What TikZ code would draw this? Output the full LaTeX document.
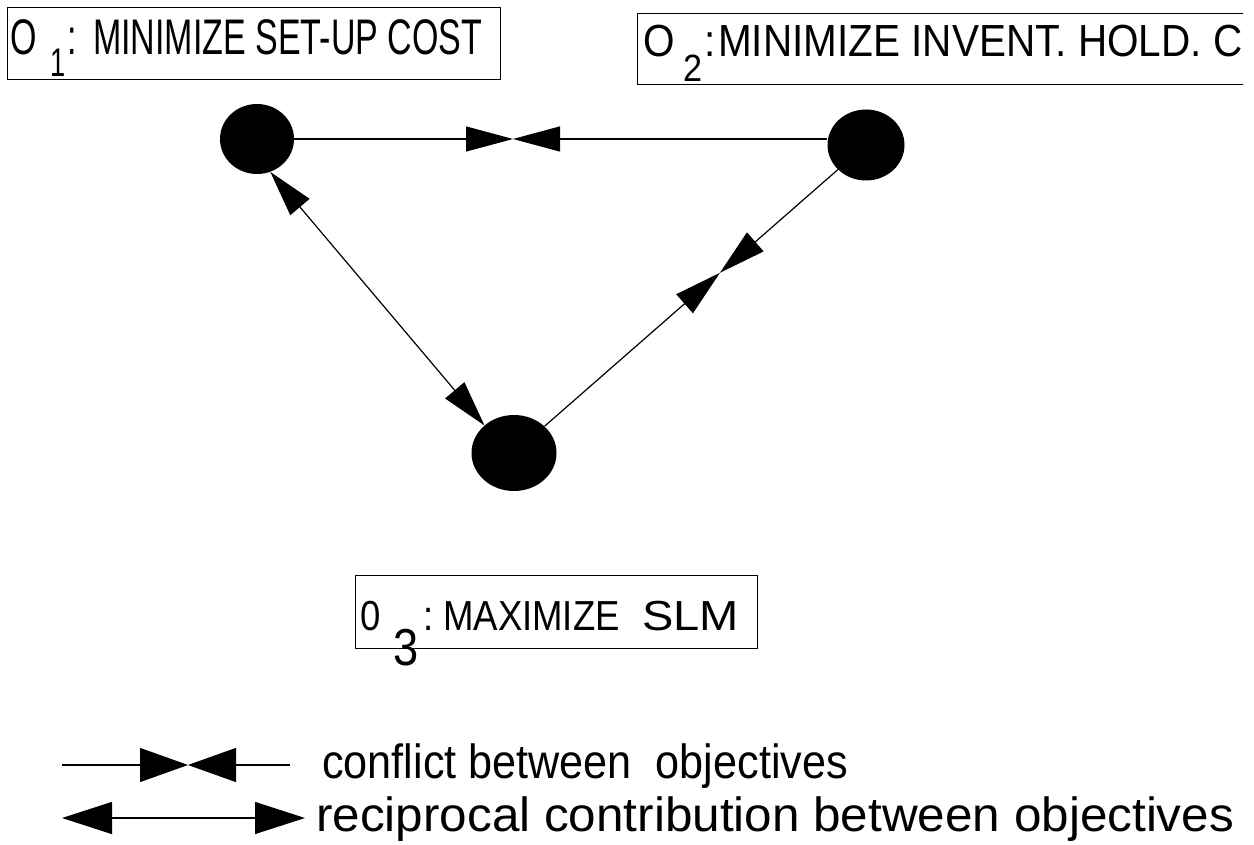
\documentclass[tikz,border=0pt]{standalone}
\usepackage{fontspec}
\setmainfont{Liberation Sans}
\newfontfamily\fonta[FakeStretch=0.68]{Liberation Sans}
\newfontfamily\fontb[FakeStretch=0.9]{Liberation Sans}
\newfontfamily\fontc[FakeStretch=0.87]{Liberation Sans}
\newfontfamily\fontd[FakeStretch=1.12]{Liberation Sans}
\newfontfamily\fontl[FakeStretch=0.9]{Liberation Sans}
\newfontfamily\fontm[FakeStretch=1.03]{Liberation Sans}
\usetikzlibrary{shapes.geometric,arrows.meta,calc}
\newcommand\lowsub[3]{\raisebox{-#1pt}{\fontsize{#2}{#2}\selectfont #3}}
\begin{document}
\begin{tikzpicture}[x=1pt,y=-1pt,
  objnode/.style={ellipse, fill=black, draw=none, inner sep=0pt},
  objbox/.style={draw, line width=1.1pt, rectangle, inner sep=0pt, anchor=north west},
  lab/.style={anchor=base west, inner sep=0pt},
  conn/.style={line width=1.2pt},
  conf/.style={conn, -{Triangle[length=47pt,width=25pt]}},
  recip/.style={conn, {Triangle[length=46pt,width=25pt]}-{Triangle[length=46pt,width=25pt]}},
  legconf/.style={conn, -{Triangle[length=48pt,width=34pt]}},
  legrecip/.style={conn, {Triangle[length=50pt,width=32pt]}-{Triangle[length=50pt,width=32pt]}}
]
\useasboundingbox (0,0) rectangle (1254,845);
% objective boxes
\node[objbox, minimum width=493pt, minimum height=72pt] (b1) at (7,7) {};
\begin{scope}
\clip (0,0) rectangle (1243,845);
\node[objbox, minimum width=700pt, minimum height=71pt] (b2) at (637,13) {};
\end{scope}
\node[objbox, minimum width=402pt, minimum height=73pt] (b3) at (355,575) {};
% box texts
\node[lab] (t1) at (10,55) {\fontsize{50}{50}\fonta\makebox[40pt][l]{O}\makebox[17pt][l]{\lowsub{22}{40}{1}}\makebox[26pt][l]{:}MINIMIZE SET-UP COST};
\node[lab] (t2) at (643,57) {\fontsize{45}{45}\fontb\makebox[40pt][l]{O}\makebox[21pt][l]{\lowsub{25}{38}{2}}\makebox[14pt][l]{:}MINIMIZE INVENT. HOLD. C};
\node[lab] (t3) at (360,630) {\fontsize{42}{42}\fontc\makebox[33pt][l]{0}\makebox[30pt][l]{\lowsub{35}{52}{3}}\makebox[20pt][l]{:}\makebox[199pt][l]{MAXIMIZE}{\fontd SLM}};
% objective nodes
\node[objnode, minimum width=74pt, minimum height=70pt] (n1) at (257,139) {};
\node[objnode, minimum width=77pt, minimum height=71pt] (n2) at (866,145) {};
\node[objnode, minimum width=85pt, minimum height=76pt] (n3) at (514,453) {};
% connectors
\coordinate (c12) at (513,139);
\coordinate (e12) at (n1.east -| n2.west);
\draw[conf] (n1.east) -- (c12);
\draw[conf] (e12) -- (c12);
\draw[recip] (n1.-68) -- (n3.137);
\coordinate (c32) at ($(n3)!0.585!(n2)$);
\draw[conf] (n3) -- (c32);
\draw[conf] (n2) -- (c32);
% legend
\coordinate (la) at (62,765);
\coordinate (lb) at (290,765);
\coordinate (lc) at (188,765);
\draw[legconf] (la) -- (lc);
\draw[legconf] (lb) -- (lc);
\node[lab] (lt1) at (322,778) {\fontsize{48}{48}\fontl conflict between\ \ objectives};
\coordinate (ra) at (62,818);
\coordinate (rb) at (305,818);
\draw[legrecip] (ra) -- (rb);
\node[lab] (lt2) at (316,831) {\fontsize{48}{48}\fontm reciprocal contribution between objectives};
\end{tikzpicture}
\end{document}
